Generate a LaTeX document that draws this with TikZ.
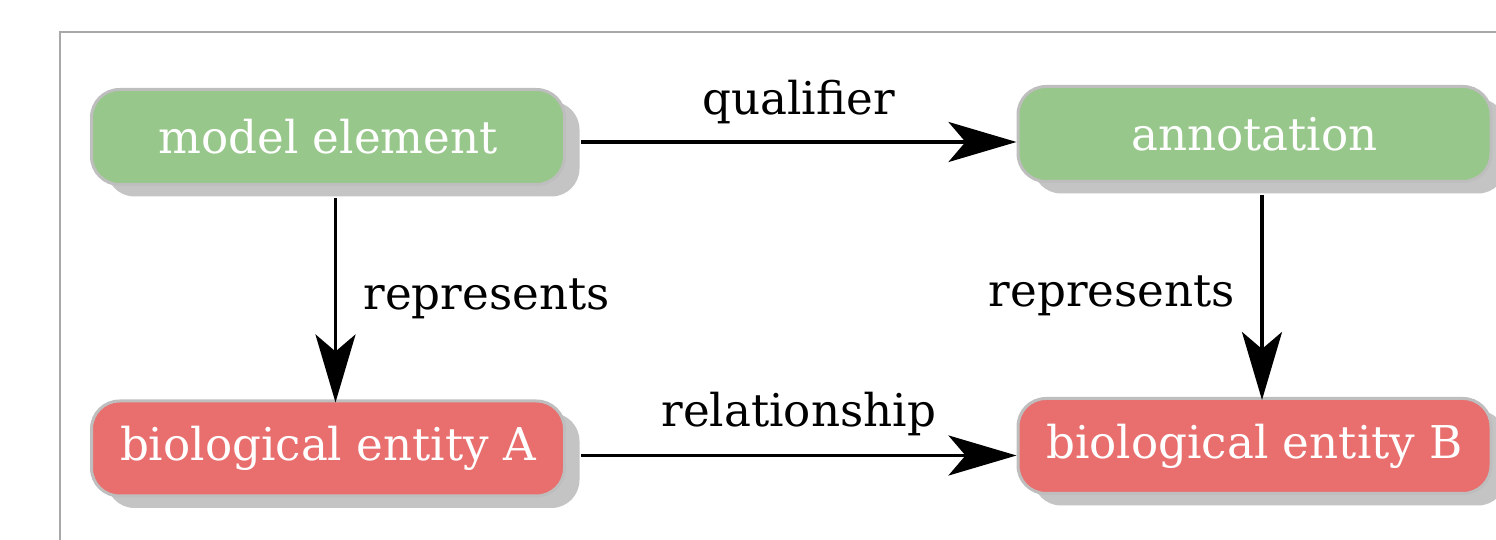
\documentclass[tikz,border=0pt]{standalone}
\usepackage{fontspec}
\setmainfont{DejaVu Serif}
\usepackage{xcolor}
\usepackage{tikz}
\usetikzlibrary{arrows.meta, shadows, calc}

\definecolor{leafgreen}{RGB}{152,199,139}
\definecolor{salmonred}{RGB}{233,110,110}
\definecolor{bordergray}{RGB}{190,190,190}
\definecolor{shadowgray}{RGB}{196,196,196}
\definecolor{framegray}{RGB}{168,168,168}

\tikzset{
	box/.style={rounded corners=14pt, draw=bordergray, line width=1.5pt,
		minimum width=236.5pt, minimum height=47.5pt, text=white,
		drop shadow={shadow xshift=7.5pt, shadow yshift=-6pt, fill=shadowgray, opacity=1}},
	modelbox/.style={box, fill=leafgreen},
	entitybox/.style={box, fill=salmonred},
	link/.style={line width=1.9pt, -{Stealth[length=34pt, width=20pt, inset=8.5pt]}},
}

\begin{document}
\begin{tikzpicture}[x=0.5pt, y=0.5pt, font=\fontsize{22.6}{27}\selectfont]
			\useasboundingbox (0,0) rectangle (1496,540);
			\clip (0,0) rectangle (1496,540);
			\draw [framegray, line width=1pt] (59.5,508.3) rectangle (1540,-40);

			\node [modelbox] (me) at (328,403) {model element};
			\node [modelbox] (ann) at (1254.5,406) {annotation};
			\node [entitybox] (bioA) at (328,91.5) {biological entity A};
			\node [entitybox] (bioB) at (1254.5,94) {biological entity B};

			\draw [link] ([shift={(7.5pt,-2.5pt)}]me.east) coordinate (q0) to node [above=5pt] (qual) {qualifier} (q0 -| ann.west);
			\draw [link, shorten >=-1.5pt] ([shift={(3.75pt,-6pt)}]me.south) coordinate (r0) to node [right=9.7pt] (repA) {represents} (r0 |- bioA.north);
			\draw [link, shorten >=-1.5pt] ([shift={(3.75pt,-6pt)}]ann.south) coordinate (r1) to node [left=9.3pt] (repB) {represents} (r1 |- bioB.north);
			\draw [link] ([shift={(7.5pt,-3.5pt)}]bioA.east) coordinate (s0) to node [above=5.5pt] (rel) {relationship} (s0 -| bioB.west);
		\end{tikzpicture}
\end{document}
